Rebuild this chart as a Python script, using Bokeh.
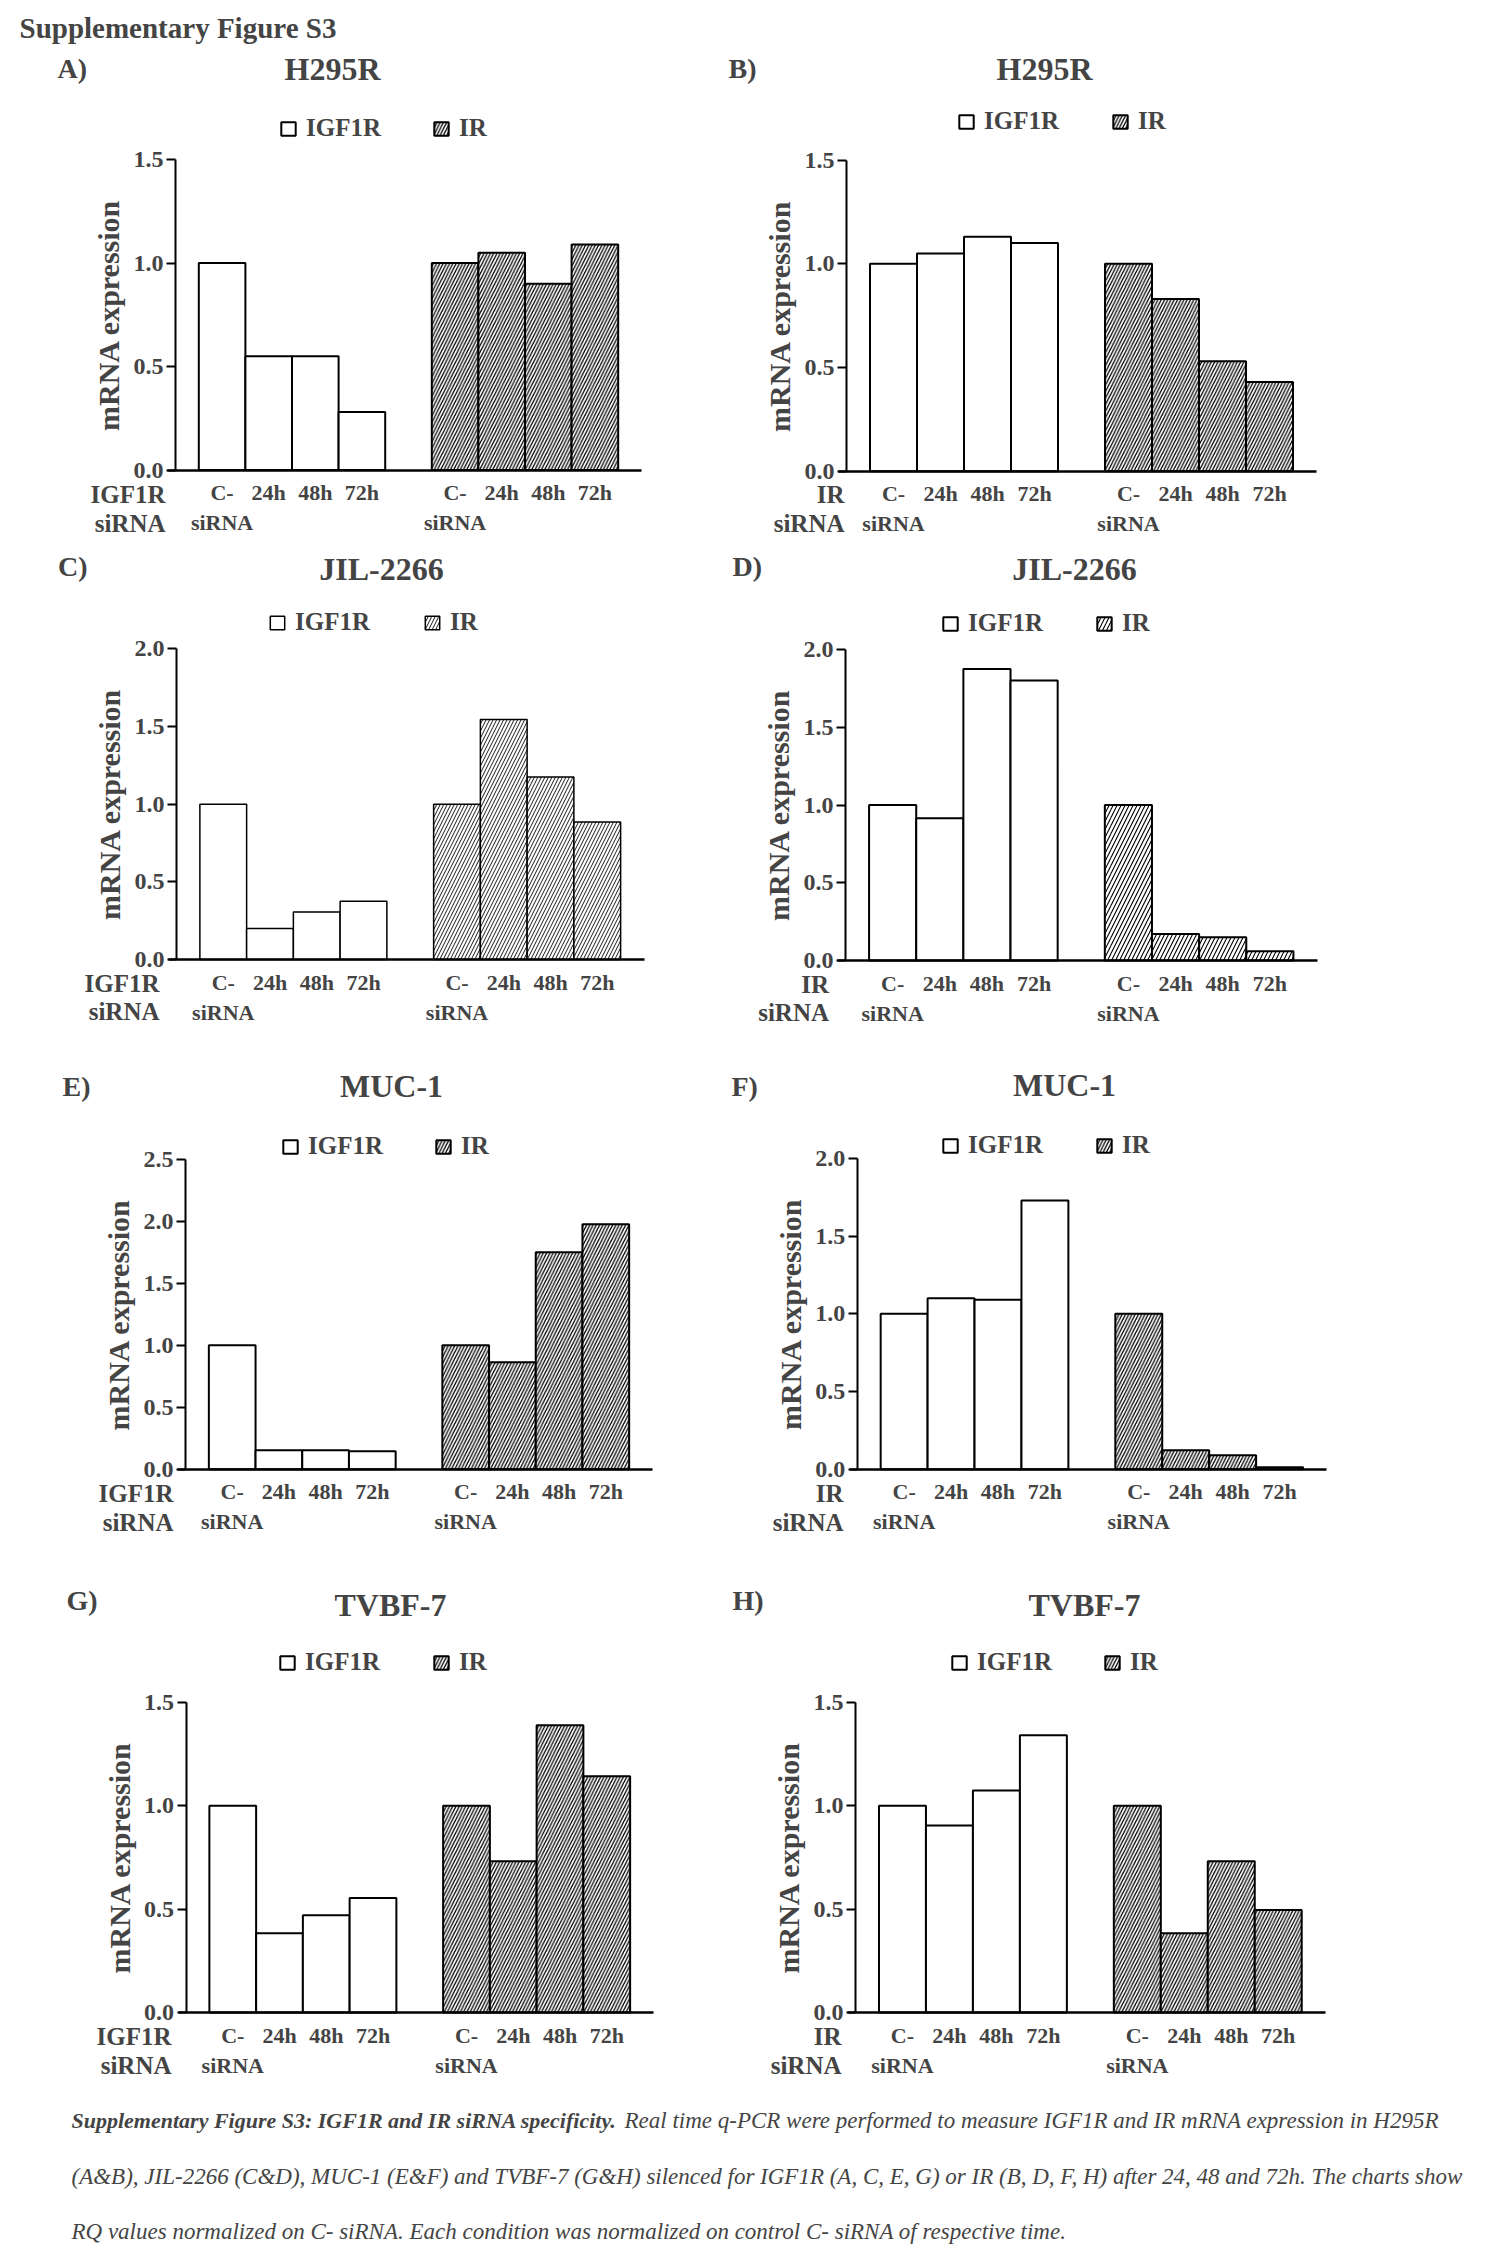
from bokeh.plotting import figure
from bokeh.models import Range1d, FixedTicker, Label, Legend, LegendItem, NumeralTickFormatter
from bokeh.layouts import column, row
from bokeh.embed import file_html
from bokeh.resources import INLINE

FONT = "Liberation Serif"

# ---------------- data ----------------
conditions = ["C-\nsiRNA", "24h", "48h", "72h"]
series_names = ["IGF1R", "IR"]
panel_ids = ["A", "B", "C", "D", "E", "F", "G", "H"]
cell_lines = ["H295R", "H295R", "JIL-2266", "JIL-2266", "MUC-1", "MUC-1", "TVBF-7", "TVBF-7"]
silenced = ["IGF1R", "IR", "IGF1R", "IR", "IGF1R", "IR", "IGF1R", "IR"]
y_max = [1.5, 1.5, 2.0, 2.0, 2.5, 2.0, 1.5, 1.5]
y_step = 0.5

igf1r_A = [1.0, 0.55, 0.55, 0.28]
ir_A = [1.0, 1.05, 0.90, 1.09]
igf1r_B = [1.0, 1.05, 1.13, 1.10]
ir_B = [1.0, 0.83, 0.53, 0.43]
igf1r_C = [1.0, 0.20, 0.305, 0.375]
ir_C = [1.0, 1.545, 1.175, 0.885]
igf1r_D = [1.0, 0.915, 1.875, 1.80]
ir_D = [1.0, 0.17, 0.15, 0.06]
igf1r_E = [1.0, 0.153, 0.153, 0.145]
ir_E = [1.0, 0.863, 1.75, 1.976]
igf1r_F = [1.0, 1.10, 1.09, 1.73]
ir_F = [1.0, 0.122, 0.09, 0.013]
igf1r_G = [1.0, 0.383, 0.47, 0.553]
ir_G = [1.0, 0.731, 1.389, 1.142]
igf1r_H = [1.0, 0.904, 1.073, 1.34]
ir_H = [1.0, 0.383, 0.731, 0.495]

igf1r_values = [igf1r_A, igf1r_B, igf1r_C, igf1r_D, igf1r_E, igf1r_F, igf1r_G, igf1r_H]
ir_values = [ir_A, ir_B, ir_C, ir_D, ir_E, ir_F, ir_G, ir_H]

header_text = "Supplementary  Figure S3"
caption_bold = "Supplementary Figure S3: IGF1R and IR siRNA specificity."
caption_1 = "Real time q-PCR were performed to measure IGF1R and IR mRNA expression in H295R"
caption_2 = ("(A&B), JIL-2266 (C&D), MUC-1 (E&F) and TVBF-7 (G&H) silenced for IGF1R (A, C, E, G) "
             "or IR (B, D, F, H) after 24, 48 and 72h. The charts show")
caption_3 = "RQ values normalized on C- siRNA. Each condition was normalized on control C- siRNA of respective time."

# ---------------- layout (page pixel positions) ----------------
LW_, RW_ = 720, 759
geom = {
    "A": dict(fx=0, fy=0, W=LW_, H=545, x0=175, R=641, T=159, B=469.6,
              lab=(57, 67.5), title=(332, 68), leg=(279, 119, 432), left=(165, 494, 523)),
    "B": dict(fx=LW_, fy=0, W=RW_, H=545, x0=846, R=1316, T=159.6, B=470.7,
              lab=(728, 67.5), title=(1044, 68), leg=(957, 112.5, 1111), left=(844, 494, 523)),
    "C": dict(fx=0, fy=545, W=LW_, H=515, x0=176, R=643.5, T=648.3, B=959,
              lab=(57.5, 566), title=(381, 568), leg=(268, 612.7, 423.5), left=(159, 983, 1011)),
    "D": dict(fx=LW_, fy=545, W=RW_, H=515, x0=845, R=1316.5, T=649, B=960,
              lab=(732, 566), title=(1074, 568), leg=(941, 614, 1095), left=(828.5, 984, 1012)),
    "E": dict(fx=0, fy=1060, W=LW_, H=515, x0=185, R=652, T=1158.7, B=1468.7,
              lab=(62, 1086), title=(391, 1085), leg=(281, 1137, 434), left=(173, 1493, 1521.5)),
    "F": dict(fx=LW_, fy=1060, W=RW_, H=515, x0=856.7, R=1326, T=1158, B=1468.7,
              lab=(731, 1086), title=(1064, 1084), leg=(941, 1136, 1095), left=(843, 1493, 1521.5)),
    "G": dict(fx=0, fy=1575, W=LW_, H=509, x0=185.5, R=653, T=1701.7, B=2012,
              lab=(66, 1600), title=(390, 1604), leg=(278, 1653, 432), left=(171, 2036, 2065)),
    "H": dict(fx=LW_, fy=1575, W=RW_, H=509, x0=855, R=1324.7, T=1701.7, B=2012,
              lab=(732, 1600), title=(1084, 1604), leg=(950, 1653, 1103.5), left=(841, 2036, 2065)),
}
bar_style = {
    "C": dict(lw=1.5, hs=7, hw=0.9),
    "D": dict(lw=2.0, hs=8, hw=1.1),
}
default_style = dict(lw=2.0, hs=6.5, hw=1.3)

GLYPH_W, GLYPH_H = 18, 17
STANDOFF = 9
ITEM_H = 23


def make_panel(i):
    pid = panel_ids[i]
    g = geom[pid]
    st = bar_style.get(pid, default_style)
    ymax = y_max[i]
    fx, fy, W, H = g["fx"], g["fy"], g["W"], g["H"]
    x0, B, T = g["x0"], g["B"], g["T"]
    u = (g["R"] - x0) / 10.0           # pixels per category slot
    ys = ymax / (B - T)                 # data units per pixel (y)
    ngrp = len(conditions)
    x_igf = [k + 1 for k in range(ngrp)]
    x_ir = [k + 2 + ngrp for k in range(ngrp)]
    x_end = x_ir[-1] + 1

    p = figure(width=W, height=H,
               x_range=Range1d((fx - x0) / u, (fx + W - x0) / u),
               y_range=Range1d((B - (fy + H)) * ys, (B - fy) * ys),
               output_backend="svg", toolbar_location=None, min_border=0)
    p.outline_line_color = None
    p.grid.visible = False
    p.background_fill_color = "white"
    p.border_fill_color = "white"

    def dx(px):
        return (px - x0) / u

    def dy(py):
        return (B - py) * ys

    r1 = p.vbar(x=x_igf, top=igf1r_values[i], width=1, bottom=0, fill_color="white",
                line_color="black", line_width=st["lw"])
    r2 = p.vbar(x=x_ir, top=ir_values[i], width=1, bottom=0, fill_color="white",
                line_color="black", line_width=st["lw"], hatch_pattern="/", hatch_color="black",
                hatch_scale=st["hs"], hatch_weight=st["hw"])

    # y axis
    ya = p.yaxis[0]
    ya.fixed_location = 0
    ya.bounds = (0, ymax)
    nt = int(round(ymax / y_step))
    ya.ticker = FixedTicker(ticks=[k * y_step for k in range(nt + 1)])
    ya.formatter = NumeralTickFormatter(format="0.0")
    ya.minor_tick_line_color = None
    ya.major_tick_in = 0
    ya.major_tick_out = 9
    ya.major_tick_line_width = 2
    ya.axis_line_width = 2
    ya.major_label_standoff = 3
    ya.major_label_text_font = FONT
    ya.major_label_text_font_style = "bold"
    ya.major_label_text_font_size = "24px"
    ya.axis_label = "mRNA expression"
    ya.axis_label_text_font = FONT
    ya.axis_label_text_font_style = "bold"
    ya.axis_label_text_font_size = "30px"
    ya.axis_label_standoff = 6

    # x axis
    xa = p.xaxis[0]
    xa.fixed_location = 0
    xa.bounds = (-8 / u, x_end)
    xa.ticker = FixedTicker(ticks=x_igf + x_ir)
    xa.major_label_overrides = {x: c for x, c in zip(x_igf + x_ir, conditions + conditions)}
    xa.major_tick_in = 0
    xa.major_tick_out = 0
    xa.minor_tick_line_color = None
    xa.axis_line_width = 2.5
    xa.major_label_standoff = 10
    xa.major_label_text_font = FONT
    xa.major_label_text_font_style = "bold"
    xa.major_label_text_font_size = "22px"

    def lab(px, py, text, size, align="left", style="bold"):
        p.add_layout(Label(x=dx(px), y=dy(py), text=text, text_font=FONT, text_font_style=style,
                           text_font_size=size, text_align=align, text_baseline="middle"))

    lab(g["lab"][0], g["lab"][1], pid + ")", "28px")
    lab(g["title"][0], g["title"][1], cell_lines[i], "32px", align="center")
    lab(g["left"][0], g["left"][1], silenced[i], "25px", align="right")
    lab(g["left"][0], g["left"][2], "siRNA", "25px", align="right")
    if pid == "A":
        lab(19, 27, header_text, "29px")

    bx, btop, irx = g["leg"]
    label_w = 75
    spacing = irx - bx - (GLYPH_W + STANDOFF + label_w)
    leg = Legend(items=[LegendItem(label=series_names[0], renderers=[r1]),
                        LegendItem(label=series_names[1], renderers=[r2])],
                 orientation="horizontal",
                 location=(int(round(bx - fx)), int(round(fy + H - (btop + ITEM_H)))),
                 glyph_width=GLYPH_W, glyph_height=GLYPH_H, label_standoff=STANDOFF,
                 spacing=int(spacing),
                 padding=0, margin=0, border_line_color=None, background_fill_alpha=0,
                 label_text_font=FONT, label_text_font_style="bold", label_text_font_size="25px",
                 label_height=GLYPH_H)
    p.add_layout(leg)
    return p


panels = [make_panel(i) for i in range(8)]

# caption (data units = pixels)
CAP_Y0, CAP_H = 2084, 166
cap = figure(width=LW_ + RW_, height=CAP_H, x_range=Range1d(0, LW_ + RW_), y_range=Range1d(0, CAP_H),
             output_backend="svg", toolbar_location=None, min_border=0,
             x_axis_type=None, y_axis_type=None)
cap.outline_line_color = None
cap.grid.visible = False


def cap_label(x, ymid, text, style, size):
    cap.add_layout(Label(x=x, y=CAP_H - (ymid - CAP_Y0), text=text, text_font=FONT,
                         text_font_style=style, text_font_size=size, text_align="left",
                         text_baseline="middle"))


cap_label(71, 2120, caption_bold, "bold italic", "22px")
cap_label(624, 2120, caption_1, "italic", "23px")
cap_label(71, 2176, caption_2, "italic", "23px")
cap_label(71, 2231, caption_3, "italic", "23px")

layout = column(row(panels[0], panels[1]), row(panels[2], panels[3]),
                row(panels[4], panels[5]), row(panels[6], panels[7]), cap)

open("out.html", "w").write(file_html(layout, INLINE))
